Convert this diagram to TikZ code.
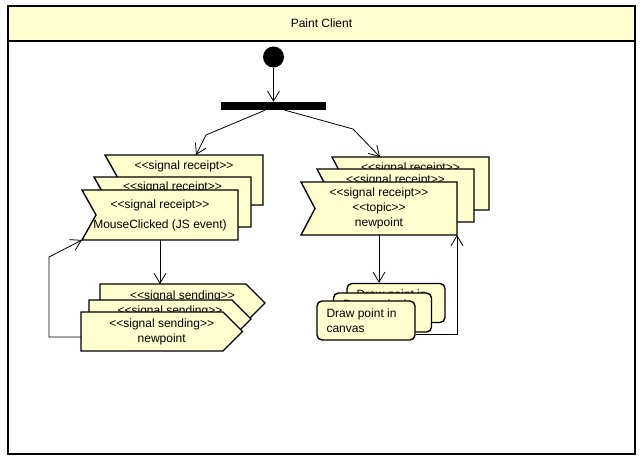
\documentclass[tikz,border=0pt]{standalone}
\usepackage{fontspec}
\setmainfont{Liberation Sans}
\usetikzlibrary{calc,arrows.meta}
\definecolor{umly}{HTML}{FEFECE}
\newcommand\umlL{<\kern0pt<}
\newcommand\umlR{>\kern0pt>}
\tikzset{
  shapeline/.style={draw=black, fill=umly, line width=1.4pt, line join=miter},
  boxarea/.style={inner sep=0pt, outer sep=0pt},
  boxtext/.style={inner sep=0pt, align=center, font=\fontsize{12}{15}\selectfont},
  flow/.style={draw=black, line width=0.8pt, -{Straight Barb[length=10pt,width=12pt,line width=0.8pt]}},
}
% receipt: name, left, top, right, bottom, text centre y, text
\newcommand\recvbox[7]{%
  \path[shapeline] (#2,#3) -- (#4,#3) -- (#4,#5) -- (#2,#5) -- ({#2+14},{(#3+#5)/2}) -- cycle;
  \node[boxarea, minimum width={#4-#2}, minimum height={#5-#3}] (#1) at ({(#2+#4)/2},{(#3+#5)/2}) {};
  \node[boxtext] (#1-t) at ({(#2+#4)/2},#6) {#7};
}
% sending: name, left, top, rect right, bottom, text centre y, text
\newcommand\sendbox[7]{%
  \path[shapeline] (#2,#3) -- (#4,#3) -- ({#4+(#5-#3)/2},{(#3+#5)/2}) -- (#4,#5) -- (#2,#5) -- cycle;
  \node[boxarea, minimum width={#4+(#5-#3)/2-#2}, minimum height={#5-#3}] (#1) at ({(#2+#4+(#5-#3)/2)/2},{(#3+#5)/2}) {};
  \node[boxtext] (#1-t) at ({(#2+#4+(#5-#3)/2)/2},#6) {#7};
}
% action: name, centre x, centre y, text centre y, text
\newcommand\actbox[5]{%
  \node[shapeline, rounded corners=5pt, inner sep=0pt, minimum width=98pt, minimum height=39pt] (#1) at (#2,#3) {};
  \node[boxtext, align=left, anchor=west] (#1-t) at ($(#1.west |- 0,#4)+(10,0)$) {#5};
}
\begin{document}
\begin{tikzpicture}[x=1pt,y=-1pt]
\useasboundingbox (0,0) rectangle (643,464);
% frame and title
\node[draw=black, line width=1.6pt, fill=white, minimum width=627pt, minimum height=448pt, inner sep=0pt] (frame) at (321.5,230) {};
\node[draw=black, line width=1.6pt, fill=umly, minimum width=627pt, minimum height=35pt, inner sep=0pt,
      font=\fontsize{12}{14}\selectfont] (title) at (321.5,23.5) {Paint Client};
% start and fork
\node[circle, fill=black, minimum size=21pt, inner sep=0pt] (start) at (273.5,57) {};
\node[fill=black, minimum width=105pt, minimum height=8pt, inner sep=0pt] (fork) at (273.5,106) {};
% left receipts
\recvbox{lrb}{105}{155}{263}{205}{166.5}{\umlL signal receipt\umlR}
\recvbox{lrm}{94}{177}{251}{227}{187.5}{\umlL signal receipt\umlR}
\recvbox{lrf}{82}{190}{238}{240}{215}{\umlL signal receipt\umlR\\[5pt]MouseClicked (JS event)}
% left sendings
\sendbox{lsb}{100}{284}{246}{322}{296}{\umlL signal sending\umlR}
\sendbox{lsm}{89}{300}{232}{338}{311.5}{\umlL signal sending\umlR}
\sendbox{lsf}{81}{312}{223}{351}{331.5}{\umlL signal sending\umlR\\newpoint}
% right receipts
\recvbox{rrb}{332}{157}{489}{210}{168.5}{\umlL signal receipt\umlR}
\recvbox{rrm}{317}{169}{474}{222}{180.5}{\umlL signal receipt\umlR}
\recvbox{rrf}{301}{182}{457}{235}{208.5}{\umlL signal receipt\umlR\\\umlL topic\umlR\\newpoint}
% actions
\actbox{dpb}{396}{303}{295.5}{Draw point in}
\actbox{dpm}{382.5}{312.5}{305}{Draw point in}
\actbox{dpf}{366}{320.5}{320.5}{Draw point in\\canvas}
% bends
\coordinate (b1) at (206,135);
\coordinate (b2) at (353,129);
\coordinate (b3) at (49,337);
\coordinate (b4) at (49,257);
\coordinate (b5) at (457,334);
% flows
\draw[flow] (start) -- (fork);
\draw[flow] ($(fork.south)+(-8.5,0)$) -- (b1) -- ($(lrb.north)+(12,0)$);
\draw[flow] ($(fork.south)+(11.5,0)$) -- (b2) -- ($(rrb.north)+(-30.5,0)$);
\draw[flow] (lrf.south) -- (lrf.south |- lsb.north);
\draw[flow] (lsf.west |- b3) -- (b3) -- (b4) -- (lrf.south west);
\draw[flow] (rrf.south) -- (rrf.south |- dpb.north);
\draw[flow] (dpf.east |- b5) -- (b5) -- (rrf.south east);
\end{tikzpicture}
\end{document}
